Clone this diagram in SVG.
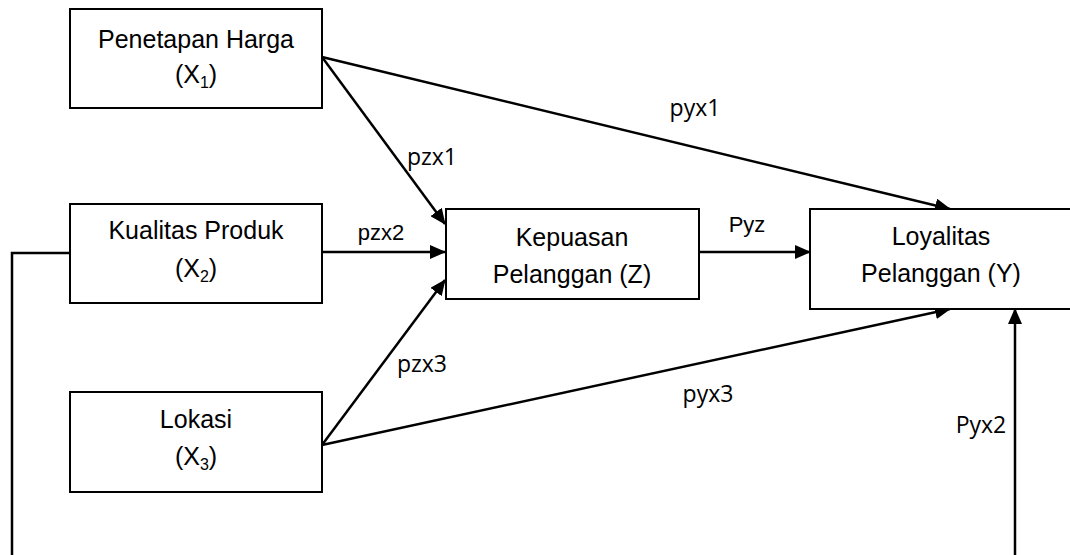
<svg xmlns="http://www.w3.org/2000/svg" width="1070" height="555" viewBox="0 0 1070 555">
<style>
.box{fill:#fff;stroke:#000;stroke-width:2}
.t{font-family:"Liberation Sans",Arial,sans-serif;font-size:25px;fill:#000;text-anchor:middle}
.sub{font-size:16px}
.lbl{font-family:"Open Sans","Liberation Sans",sans-serif;font-size:23px;fill:#000;text-anchor:middle}
.lbla{font-family:"Liberation Sans",Arial,sans-serif;font-size:22px;fill:#000;text-anchor:middle}
.c{fill:none;stroke:#000;stroke-width:2.5}
</style>
<defs>
<marker id="ah" markerUnits="userSpaceOnUse" markerWidth="16" markerHeight="14" refX="15" refY="7" orient="auto">
<path d="M0,0 L16,7 L0,14 Z" fill="#000"/>
</marker>
</defs>
<g id="connectors">
<line class="c" x1="322" y1="57" x2="950" y2="209" marker-end="url(#ah)"/>
<line class="c" x1="322" y1="57" x2="445" y2="224" marker-end="url(#ah)"/>
<line class="c" x1="322" y1="252" x2="445" y2="252" marker-end="url(#ah)"/>
<line class="c" x1="322" y1="445" x2="445" y2="280" marker-end="url(#ah)"/>
<line class="c" x1="322" y1="445" x2="950" y2="309" marker-end="url(#ah)"/>
<line class="c" x1="698" y1="252" x2="810" y2="252" marker-end="url(#ah)"/>
<line class="c" x1="1015" y1="560" x2="1015" y2="309" marker-end="url(#ah)"/>
<polyline class="c" points="70,253 12,253 12,560"/>
<text class="lbl" x="695" y="116">pyx1</text>
<text class="lbl" x="432" y="165">pzx1</text>
<text class="lbla" x="381" y="240">pzx2</text>
<text class="lbla" x="747" y="232">Pyz</text>
<text class="lbl" x="422" y="372">pzx3</text>
<text class="lbl" x="708" y="402">pyx3</text>
<text class="lbl" x="981" y="433">Pyx2</text>
</g>
<g id="x1">
<rect class="box" x="70" y="9" width="252" height="99"/>
<text class="t" x="196" y="48">Penetapan Harga</text>
<text class="t" x="196" y="83">(X<tspan class="sub" dy="5">1</tspan><tspan dy="-5">)</tspan></text>
</g>
<g id="x2">
<rect class="box" x="70" y="204" width="252" height="99"/>
<text class="t" x="196" y="239">Kualitas Produk</text>
<text class="t" x="196" y="277">(X<tspan class="sub" dy="5">2</tspan><tspan dy="-5">)</tspan></text>
</g>
<g id="x3">
<rect class="box" x="70" y="392" width="252" height="100"/>
<text class="t" x="196" y="428">Lokasi</text>
<text class="t" x="196" y="465">(X<tspan class="sub" dy="5">3</tspan><tspan dy="-5">)</tspan></text>
</g>
<g id="z">
<rect class="box" x="446" y="209" width="253" height="90"/>
<text class="t" x="572" y="246">Kepuasan</text>
<text class="t" x="572" y="283">Pelanggan (Z)</text>
</g>
<g id="y">
<rect class="box" x="810" y="209" width="264" height="100"/>
<text class="t" x="941" y="245">Loyalitas</text>
<text class="t" x="941" y="282">Pelanggan (Y)</text>
</g>
</svg>
